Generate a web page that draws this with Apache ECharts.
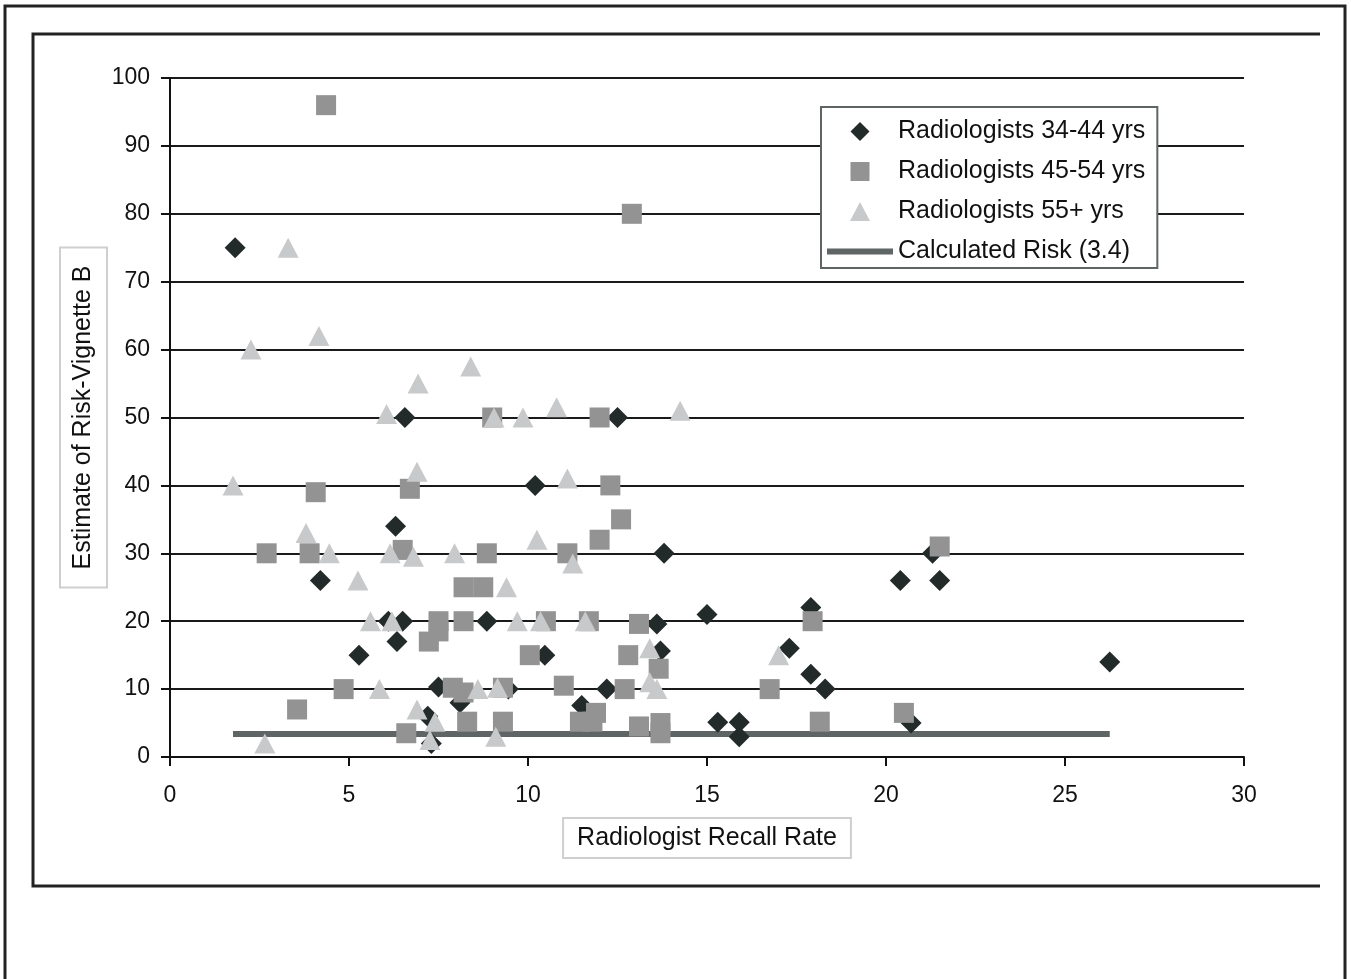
<!DOCTYPE html>
<html>
<head>
<meta charset="utf-8">
<script src="https://cdn.jsdelivr.net/npm/echarts@6/dist/echarts.min.js"></script>
<style>
html,body{margin:0;padding:0;background:#fff;}
#chart{width:1351px;height:979px;}
</style>
</head>
<body>
<div id="chart"></div>
<script>
// Radiologists 34-44 yrs: [recall rate, estimate]
var group3444 = [
  [1.82,75],[6.56,50],[12.5,50],[10.2,40],[6.3,34],[13.8,30],[4.2,26],[6.1,20],[6.5,20],
  [6.34,17],[5.28,15],[8.85,20],[10.47,15],[7.5,10.3],[8.1,8],[9.45,10],[7.2,6],[7.3,2],
  [13.6,19.6],[15.0,21],[13.7,15.6],[12.2,10],[11.5,7.6],[15.3,5.1],[15.9,5.1],[15.9,3],
  [17.3,16],[17.9,12.2],[18.3,10],[17.9,22],[20.4,26],[21.5,26],[21.3,30],[20.7,5],[26.25,14]
];
// Radiologists 45-54 yrs
var group4554 = [
  [4.36,96],[12.9,80],[9.0,50],[12.0,50],[4.07,39],[6.7,39.5],[12.3,40],[12.6,35],[12.0,32],
  [2.7,30],[3.9,30],[6.5,30.5],[8.85,30],[11.1,30],[21.5,31],[8.2,25],[8.75,25],[7.5,20],
  [7.5,18.5],[7.23,17],[8.2,20],[10.5,20],[11.7,20],[13.1,19.6],[10.05,15],[12.8,15],[13.65,13],
  [4.85,10],[7.9,10.2],[8.2,9.5],[9.3,10.2],[11.0,10.5],[12.7,10],[16.75,10],[17.95,20],
  [3.55,7],[8.3,5.2],[9.3,5.2],[6.6,3.5],[11.9,6.5],[11.45,5.2],[11.8,5.2],[13.1,4.5],
  [13.7,5],[13.7,3.5],[18.15,5.2],[20.5,6.5]
];
// Radiologists 55+ yrs
var group55plus = [
  [3.3,75],[2.26,60],[4.16,62],[1.76,40],[6.93,55],[8.4,57.5],[6.05,50.5],[9.05,50],[9.86,50],
  [10.8,51.5],[14.25,51],[6.9,42],[11.1,41],[3.8,33],[4.45,30],[6.15,30],[6.8,29.5],[7.95,30],
  [10.25,32],[5.25,26],[9.4,25],[11.25,28.5],[5.6,20],[6.2,20],[9.7,20],[10.35,20],[11.6,20],
  [5.85,10],[8.6,10],[9.15,10.2],[6.9,7],[7.4,5.2],[7.26,2.5],[9.1,3],[2.65,2],[17.0,15],
  [13.4,16],[13.4,11],[13.6,10]
];
// Calculated risk line
var calcRiskValue = 3.4;
var calcRiskX = [1.76, 26.25];

var seriesNames = ['Radiologists 34-44 yrs','Radiologists 45-54 yrs','Radiologists 55+ yrs','Calculated Risk (3.4)'];
var xTitle = 'Radiologist Recall Rate';
var yTitle = 'Estimate of Risk-Vignette B';

var FONT = '"Liberation Sans", Arial, Helvetica, sans-serif';
var chart = echarts.init(document.getElementById('chart'), null, {renderer:'canvas'});

var option = {
  backgroundColor: '#fff',
  animation: false,
  textStyle: {fontFamily: FONT},
  graphic: [
    {type:'polyline', shape:{points:[[5,979],[5,6],[1345,6],[1345,979]]}, style:{stroke:'#222', lineWidth:3, fill:null}, silent:true},
    {type:'polyline', shape:{points:[[1320,34],[33,34],[33,886],[1320,886]]}, style:{stroke:'#222', lineWidth:3, fill:null}, silent:true}
  ],
  grid: {left:170, right:107, top:78, bottom:222, containLabel:false},
  legend: {
    left: 821, top: 107,
    orient: 'vertical',
    backgroundColor: '#fff',
    borderColor: '#5f6464', borderWidth: 2,
    padding: [12, 12, 4, 6],
    itemWidth: 66, itemHeight: 19, itemGap: 15,
    symbolKeepAspect: true,
    textStyle: {fontFamily: FONT, fontSize: 25, color:'#111', lineHeight: 24},
    data: [
      {name: seriesNames[0], icon:'path://M0,-1 L1,0 L0,1 L-1,0 Z'},
      {name: seriesNames[1], icon:'path://M0,0 L1,0 L1,1 L0,1 Z'},
      {name: seriesNames[2], icon:'path://M0,0 L1,1.9 L-1,1.9 Z'},
      {name: seriesNames[3], icon:'path://M0,0 L66,0 L66,6 L0,6 Z', itemStyle:{color:'#5f6464'}}
    ]
  },
  xAxis: {
    type:'value', min:0, max:30, interval:5,
    name: xTitle, nameLocation:'middle', nameGap: 61, nameMoveOverlap: false,
    nameTextStyle: {fontFamily: FONT, fontSize:25, color:'#111', borderColor:'#cfcfcf', borderWidth:2, padding:[8,14,8,14], lineHeight:24},
    axisLine: {show:true, onZero:false, lineStyle:{color:'#111', width:2}},
    axisTick: {show:true, length:9, lineStyle:{color:'#111', width:2}},
    axisLabel: {fontFamily: FONT, fontSize:23, color:'#111', margin:27},
    splitLine: {show:false}
  },
  yAxis: {
    type:'value', min:0, max:100, interval:10,
    name: yTitle, nameLocation:'middle', nameGap: 63, nameMoveOverlap: false,
    nameTextStyle: {fontFamily: FONT, fontSize:25, color:'#111', borderColor:'#cfcfcf', borderWidth:2, padding:[11,18,11,18], lineHeight:25},
    axisLine: {show:true, onZero:false, lineStyle:{color:'#111', width:2}},
    axisTick: {show:true, length:9, lineStyle:{color:'#111', width:2}},
    axisLabel: {fontFamily: FONT, fontSize:23, color:'#111', margin:20},
    splitLine: {show:true, lineStyle:{color:'#1a1a1a', width:2}}
  },
  series: [
    {name: seriesNames[0], type:'scatter', data: group3444, symbol:'diamond', symbolSize:21, z:3,
      itemStyle:{color:'#222a2a', opacity:1}},
    {name: seriesNames[1], type:'scatter', data: group4554, symbol:'rect', symbolSize:20, z:4,
      itemStyle:{color:'#939393', opacity:1}},
    {name: seriesNames[2], type:'scatter', data: group55plus, symbol:'triangle', symbolSize:[21,20], z:5,
      itemStyle:{color:'#c8c9ca', opacity:1}},
    {name: seriesNames[3], type:'line', z:2, symbol:'none',
      data: calcRiskX.map(function(x){ return [x, calcRiskValue]; }),
      lineStyle:{color:'#5f6464', width:6}, itemStyle:{color:'#5f6464'}}
  ]
};
chart.setOption(option);
</script>
</body>
</html>
